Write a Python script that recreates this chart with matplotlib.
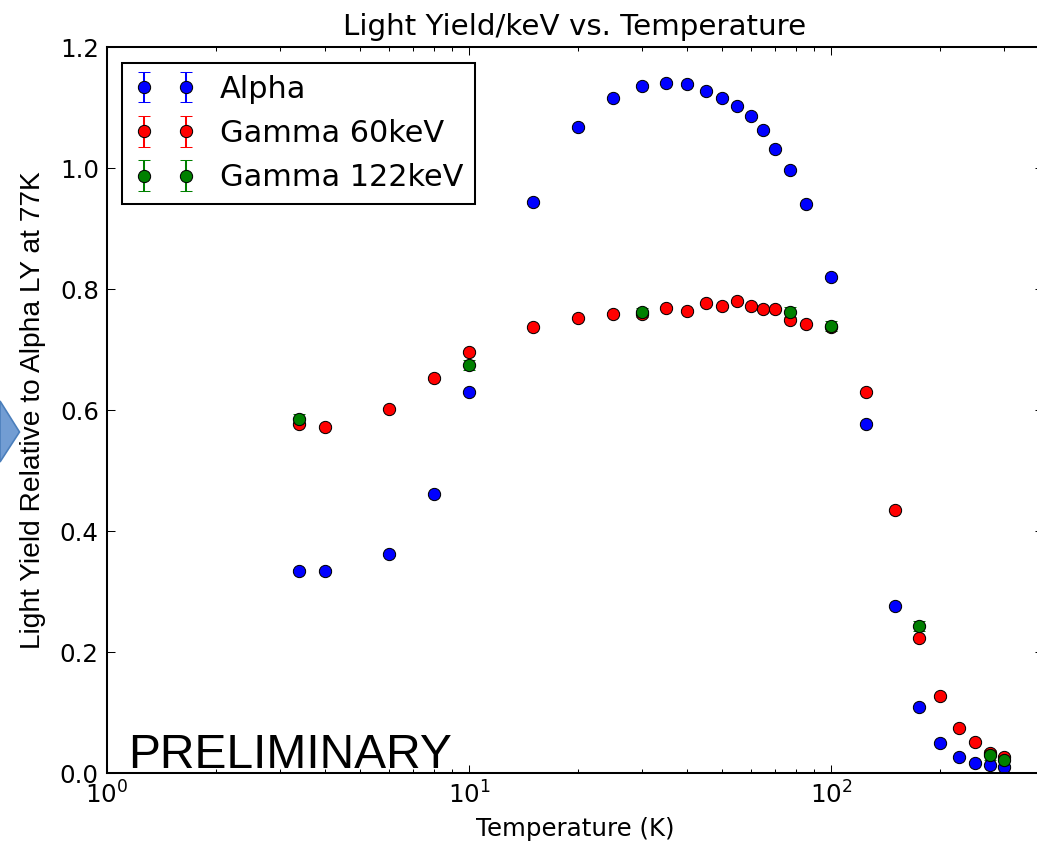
import matplotlib
matplotlib.use('Agg')
import matplotlib.pyplot as plt
from matplotlib.patches import Polygon

# Temperatures (K) and light yield relative to the alpha LY at 77K
alpha_temp = [3.4, 4, 6, 8, 10, 15, 20, 25, 30, 35, 40, 45, 50, 55, 60, 65, 70, 77, 85, 100,
              125, 150, 175, 200, 225, 250, 275, 300]
alpha_ly = [0.335, 0.335, 0.362, 0.462, 0.630, 0.944, 1.068, 1.116, 1.137, 1.142, 1.139, 1.128,
            1.117, 1.103, 1.086, 1.063, 1.032, 0.997, 0.941, 0.820,
            0.578, 0.277, 0.110, 0.050, 0.027, 0.0175, 0.014, 0.011]

gamma60_temp = [3.4, 4, 6, 8, 10, 15, 20, 25, 30, 35, 40, 45, 50, 55, 60, 65, 70, 77, 85, 100,
                125, 150, 175, 200, 225, 250, 275, 300]
gamma60_ly = [0.577, 0.573, 0.602, 0.653, 0.697, 0.738, 0.753, 0.760, 0.760, 0.770, 0.765, 0.777,
              0.773, 0.780, 0.772, 0.768, 0.768, 0.750, 0.743, 0.738,
              0.630, 0.435, 0.224, 0.127, 0.075, 0.052, 0.034, 0.027]

gamma122_temp = [3.4, 10, 30, 77, 100, 175, 275, 300]
gamma122_ly = [0.586, 0.675, 0.762, 0.763, 0.740, 0.244, 0.030, 0.022]

alpha_err = 0.002
gamma60_err = 0.002
gamma122_err = 0.008

plt.rcParams['font.family'] = 'DejaVu Sans'
plt.rcParams['font.size'] = 12
plt.rcParams['mathtext.fontset'] = 'dejavusans'
plt.rcParams['xtick.direction'] = 'in'
plt.rcParams['ytick.direction'] = 'in'
plt.rcParams['xtick.top'] = True
plt.rcParams['ytick.right'] = True
plt.rcParams['xtick.major.size'] = 4
plt.rcParams['xtick.minor.size'] = 2
plt.rcParams['ytick.major.size'] = 4
plt.rcParams['ytick.minor.size'] = 2
plt.rcParams['xtick.major.width'] = 0.5
plt.rcParams['xtick.minor.width'] = 0.5
plt.rcParams['ytick.major.width'] = 0.5
plt.rcParams['xtick.major.pad'] = 4
plt.rcParams['ytick.major.pad'] = 4
plt.rcParams['axes.linewidth'] = 1.0

fig = plt.figure(figsize=(1037 / 147, 849 / 147), dpi=147)
ax = fig.add_axes([0.1032, 0.0892, 0.9026, 0.8549])

style = dict(fmt='o', markersize=6, markeredgecolor='black', markeredgewidth=0.5,
             elinewidth=1.0, capsize=3)
ax.errorbar(alpha_temp, alpha_ly, yerr=alpha_err, color='b', ecolor='b', label='Alpha', **style)
ax.errorbar(gamma60_temp, gamma60_ly, yerr=gamma60_err, color='r', ecolor='r',
            label='Gamma 60keV', **style)
ax.errorbar(gamma122_temp, gamma122_ly, yerr=gamma122_err, color='g', ecolor='g',
            label='Gamma 122keV', **style)

ax.set_xscale('log')
ax.set_xlim(1, 385)
ax.set_ylim(0.0, 1.2)
ax.set_yticks([0.0, 0.2, 0.4, 0.6, 0.8, 1.0, 1.2])
ax.set_yticklabels(['0.0', '0.2', '0.4', '0.6', '0.8', '1.0', '1.2'])

ax.set_title('Light Yield/keV vs. Temperature', fontsize=14.4)
ax.set_xlabel('Temperature (K)')
ax.set_ylabel('Light Yield Relative to Alpha LY at 77K', family='Liberation Sans', fontsize=13.8)
ax.yaxis.set_label_coords(-0.065, 0.5)

leg = ax.legend(loc='upper left', numpoints=2, fontsize=14.9, fancybox=False,
                framealpha=1, edgecolor='black', borderpad=0.4, labelspacing=0.5,
                handlelength=2, handletextpad=0.8, borderaxespad=0.5)
leg.get_frame().set_linewidth(1.0)

ax.text(0.0224, 0.0069, 'PRELIMINARY', transform=ax.transAxes, family='Liberation Sans',
        fontsize=23.5, va='baseline', ha='left', color='black')

# slide arrow poking in from the left edge
w, h = 1037.0, 849.0
arrow = Polygon([(0, 1 - 401 / h), (19.5 / w, 1 - 432 / h), (0, 1 - 462 / h)],
                closed=True, transform=fig.transFigure, facecolor='#729dd3',
                edgecolor='#4a7ebb', linewidth=0.8)
fig.patches.append(arrow)

fig.savefig('out.png', dpi=147, facecolor='white')
